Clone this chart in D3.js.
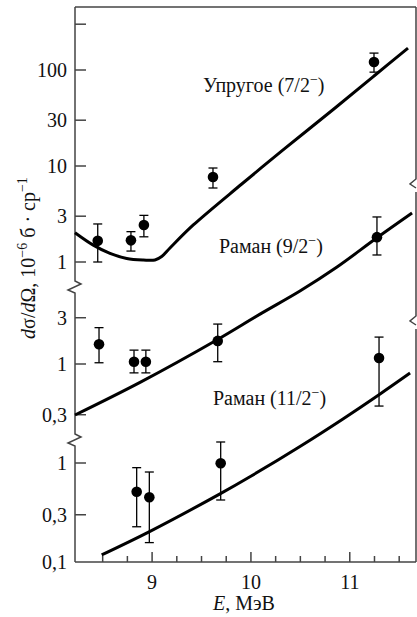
<!DOCTYPE html>
<html>
<head>
<meta charset="utf-8">
<script src="https://cdn.jsdelivr.net/npm/d3@7"></script>
<style>
  body { margin: 0; background: #fff; }
</style>
</head>
<body>
<div id="content"></div>
<script>
// elastic (7/2-)
let elasticE = [8.45, 8.786, 8.917, 9.616, 11.245];
let elasticV = [1.66, 1.68, 2.43, 7.67, 121];
let elasticLo = [1.0, 1.30, 1.83, 5.9, 95];
let elasticHi = [2.49, 2.07, 3.06, 9.53, 150];
let elasticCurveE = [8.22, 8.405, 8.574, 8.743, 8.911, 9.029, 9.097, 9.181, 9.417, 9.907, 10.325, 10.851, 11.245, 11.589];
let elasticCurveV = [2.02, 1.50, 1.23, 1.09, 1.05, 1.05, 1.14, 1.40, 2.43, 6.49, 14.7, 40.2, 86.6, 169];

// raman (9/2-)
let raman9E = [8.463, 8.817, 8.937, 9.664, 11.275];
let raman9V = [1.6, 1.056, 1.056, 1.73, 20.3];
let raman9Lo = [1.03, 0.81, 0.81, 1.056, 13.3];
let raman9Hi = [2.37, 1.39, 1.39, 2.58, 32.8];
let raman9CurveE = [8.22, 8.878, 9.654, 10.092, 10.496, 10.871, 11.275, 11.63];
let raman9CurveV = [0.298, 0.647, 1.77, 3.27, 5.66, 10.0, 20.0, 36];

// raman (11/2-)
let raman11E = [8.844, 8.972, 9.694, 11.296];
let raman11V = [0.513, 0.451, 0.993, 11.5];
let raman11Lo = [0.227, 0.157, 0.423, 3.76];
let raman11Hi = [0.897, 0.811, 1.63, 18.7];
let raman11CurveE = [8.49, 8.979, 9.687, 9.99, 10.496, 10.931, 11.296, 11.61];
let raman11CurveV = [0.118, 0.204, 0.488, 0.727, 1.47, 2.79, 4.90, 8.11];

let xMajor = [9, 10, 11];
let xMinor = [8.5, 8.75, 9.25, 9.5, 9.75, 10.25, 10.5, 10.75, 11.25, 11.5];
let topTicks = [1, 3, 10, 30, 100, 300];
let topLabels = ["1", "3", "10", "30", "100", ""];
let midTicks = [0.3, 1, 3];
let midLabels = ["0,3", "1", "3"];
let botTicks = [0.1, 0.3, 1];
let botLabels = ["0,1", "0,3", "1"];

const W = 417, H = 617;
const mLeft = 75, mRight = 416, mTop = 7, mBottom = 562;
const serif = "'Liberation Serif', 'Times New Roman', 'DejaVu Serif', serif";

let svg = d3.select("#content")
    .append("svg")
    .attr("width", W)
    .attr("height", H)
    .attr("font-family", serif)
    .style("font-family", serif);

const x = d3.scaleLinear().domain([8.22, 11.67]).range([mLeft, mRight]);
const yTop = d3.scaleLog().domain([1, 100]).range([262, 70]);
const yMid = d3.scaleLog().domain([1, 10]).range([364, 267]);
const yBot = d3.scaleLog().domain([0.1, 1]).range([562, 463]);

const axisColor = "#444";
const textColor = "#111";

// frame: left axis with breaks, top, bottom, right with breaks
let frame = svg.append("g")
    .attr("fill", "none")
    .attr("stroke", axisColor)
    .attr("stroke-width", 1.5);

frame.append("path").attr("d", `M${mLeft},${mTop} L${mLeft},281 L81,284 L68,290 L${mLeft},293 L${mLeft},434 L81,437 L68,443 L${mLeft},446 L${mLeft},${mBottom}`);
frame.append("path").attr("d", `M${mLeft},${mTop} L${mRight},${mTop}`);
frame.append("path").attr("d", `M${mLeft},${mBottom} L${mRight},${mBottom}`);
frame.append("path").attr("d", `M${mRight},${mTop} L${mRight},179 L410,184 L${mRight},188 M${mRight},192 L${mRight},316 L410,321 L${mRight},325 M${mRight},329 L${mRight},${mBottom}`);

// x ticks (inward)
let xAxis = svg.append("g").attr("stroke", axisColor).attr("stroke-width", 1.5);
xAxis.selectAll("line.major")
    .data(xMajor)
    .enter()
    .append("line")
    .attr("class", "major")
    .attr("x1", d => x(d)).attr("x2", d => x(d))
    .attr("y1", mBottom).attr("y2", mBottom - 10);
xAxis.selectAll("line.minor")
    .data(xMinor)
    .enter()
    .append("line")
    .attr("class", "minor")
    .attr("x1", d => x(d)).attr("x2", d => x(d))
    .attr("y1", mBottom).attr("y2", mBottom - 6);

svg.append("g")
    .selectAll("text")
    .data(xMajor)
    .enter()
    .append("text")
    .attr("x", d => x(d))
    .attr("y", 589)
    .attr("text-anchor", "middle")
    .attr("font-size", 20)
    .attr("fill", textColor)
    .text(d => d);

let xTitle = svg.append("text")
    .attr("x", 244)
    .attr("y", 610)
    .attr("text-anchor", "middle")
    .attr("font-size", 20)
    .attr("fill", textColor);
xTitle.append("tspan").attr("font-style", "italic").text("E");
xTitle.append("tspan").text(", МэВ");

// y ticks for each panel
function yTicks(scale, ticks, labels)
{
    let g = svg.append("g");
    g.selectAll("line")
        .data(ticks)
        .enter()
        .append("line")
        .attr("x1", mLeft).attr("x2", mLeft + 11)
        .attr("y1", d => scale(d)).attr("y2", d => scale(d))
        .attr("stroke", axisColor)
        .attr("stroke-width", 1.5);
    g.selectAll("text")
        .data(ticks)
        .enter()
        .append("text")
        .attr("x", 67)
        .attr("y", d => scale(d) + 7)
        .attr("text-anchor", "end")
        .attr("font-size", 20)
        .attr("fill", textColor)
        .text((d, i) => labels[i]);
}
yTicks(yTop, topTicks, topLabels);
yTicks(yMid, midTicks, midLabels);
yTicks(yBot, botTicks.slice(1), botLabels.slice(1));
// 0,1 sits on the bottom axis line
svg.append("text")
    .attr("x", 67).attr("y", yBot(botTicks[0]) + 7)
    .attr("text-anchor", "end").attr("font-size", 20)
    .attr("fill", textColor)
    .text(botLabels[0]);

// y title
let yTitle = svg.append("text")
    .attr("transform", "translate(35,258) rotate(-90)")
    .attr("text-anchor", "middle")
    .attr("font-size", 20)
    .attr("fill", textColor);
yTitle.append("tspan").attr("font-style", "italic").text("d");
yTitle.append("tspan").text("σ/");
yTitle.append("tspan").attr("font-style", "italic").text("d");
yTitle.append("tspan").text("Ω, 10");
yTitle.append("tspan").attr("dy", -8).attr("font-size", 14).text("−6");
yTitle.append("tspan").attr("dy", 8).text(" б · ср");
yTitle.append("tspan").attr("dy", -8).attr("font-size", 14).text("−1");

// curves and points
function series(scale, cE, cV, pE, pV, pLo, pHi)
{
    let line = d3.line()
        .x(d => x(d[0]))
        .y(d => scale(d[1]))
        .curve(d3.curveCatmullRom.alpha(0.5));

    svg.append("path")
        .datum(cE.map((e, i) => [e, cV[i]]))
        .attr("d", line)
        .attr("fill", "none")
        .attr("stroke", "#000")
        .attr("stroke-width", 3);

    let pts = pE.map((e, i) => ({e: e, v: pV[i], lo: pLo[i], hi: pHi[i]}));
    let g = svg.append("g").attr("stroke", "#000").attr("stroke-width", 1.3);
    g.selectAll("line.bar")
        .data(pts).enter().append("line")
        .attr("class", "bar")
        .attr("x1", d => x(d.e)).attr("x2", d => x(d.e))
        .attr("y1", d => scale(d.lo)).attr("y2", d => scale(d.hi));
    g.selectAll("line.capHi")
        .data(pts).enter().append("line")
        .attr("class", "capHi")
        .attr("x1", d => x(d.e) - 4.5).attr("x2", d => x(d.e) + 4.5)
        .attr("y1", d => scale(d.hi)).attr("y2", d => scale(d.hi));
    g.selectAll("line.capLo")
        .data(pts).enter().append("line")
        .attr("class", "capLo")
        .attr("x1", d => x(d.e) - 4.5).attr("x2", d => x(d.e) + 4.5)
        .attr("y1", d => scale(d.lo)).attr("y2", d => scale(d.lo));
    svg.append("g").selectAll("circle")
        .data(pts).enter().append("circle")
        .attr("cx", d => x(d.e))
        .attr("cy", d => scale(d.v))
        .attr("r", 5.3)
        .attr("fill", "#000");
}
series(yTop, elasticCurveE, elasticCurveV, elasticE, elasticV, elasticLo, elasticHi);
series(yMid, raman9CurveE, raman9CurveV, raman9E, raman9V, raman9Lo, raman9Hi);
series(yBot, raman11CurveE, raman11CurveV, raman11E, raman11V, raman11Lo, raman11Hi);

// series labels
function label(xp, yp, name, spin)
{
    let t = svg.append("text")
        .attr("x", xp).attr("y", yp)
        .attr("font-size", 20)
        .attr("fill", textColor);
    t.append("tspan").text(name + " (" + spin);
    t.append("tspan").attr("dy", -8).attr("font-size", 14).text("−");
    t.append("tspan").attr("dy", 8).text(")");
}
label(203, 92, "Упругое", "7/2");
label(219, 253, "Раман", "9/2");
label(213, 405, "Раман", "11/2");
</script>
</body>
</html>
